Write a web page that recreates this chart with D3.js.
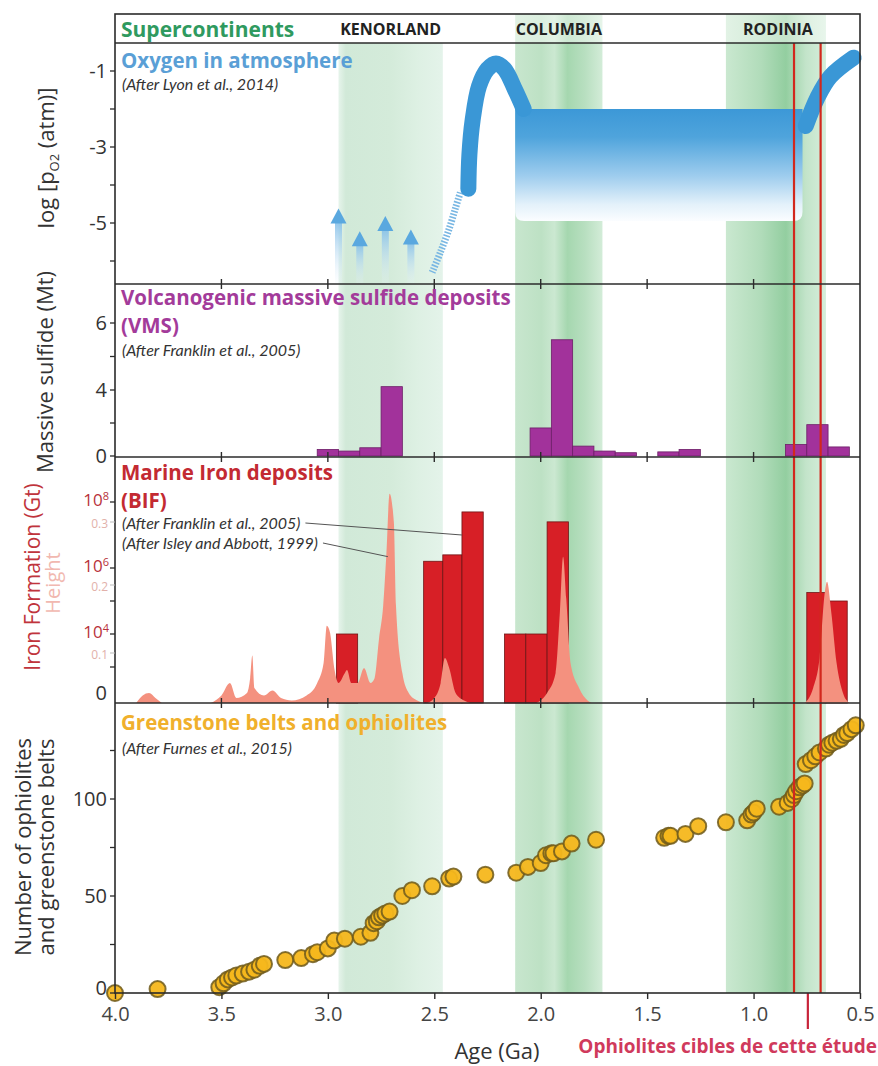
<!DOCTYPE html>
<html>
<head>
<meta charset="utf-8">
<script src="https://cdn.jsdelivr.net/npm/d3@7"></script>
<style>
body { margin: 0; background: #fff; }
text { font-family: "Open Sans", "Noto Sans", sans-serif; }
text.cite { font-family: Lato, "Open Sans", sans-serif; }
</style>
</head>
<body>
<script>
// ---------- data ----------
const ageTicks = [4.0, 3.5, 3.0, 2.5, 2.0, 1.5, 1.0, 0.5];

const superNames = ["KENORLAND", "COLUMBIA", "RODINIA"];
const superStart = [2.95, 2.12, 1.13];
const superEnd   = [2.46, 1.71, 0.66];

const targetAges = [0.81, 0.685];   // red lines
const targetMark = 0.745;           // tick below axis

// oxygen (log pO2)
const o2Ticks = [-1, -3, -5];
const o2Minor = [-2, -4, -6];
const arrowAges = [2.95, 2.85, 2.73, 2.61];
const arrowTips = [-4.75, -5.35, -4.95, -5.3];
const o2Rise = [[2.51, -6.3], [2.47, -5.75], [2.43, -5.15], [2.40, -4.6], [2.375, -4.15]];
const o2Arc = [[2.34, -4.1], [2.335, -3.2], [2.32, -2.3], [2.29, -1.4], [2.25, -0.95],
               [2.21, -0.8], [2.17, -0.95], [2.12, -1.5], [2.08, -2.0]];
const plateauAges = [2.12, 0.77];
const plateauLevels = [-2.0, -4.95];
const o2Late = [[0.755, -2.45], [0.70, -1.7], [0.64, -1.15], [0.53, -0.65]];

// VMS (Mt), 0.1 Ga bins
const vmsStart = [3.05, 2.95, 2.85, 2.75, 2.05, 1.95, 1.85, 1.75, 1.65, 1.45, 1.35, 0.85, 0.75, 0.65];
const vmsValue = [0.4, 0.3, 0.5, 4.1, 1.7, 5.5, 0.6, 0.3, 0.2, 0.25, 0.4, 0.7, 1.9, 0.55];
const vmsTicks = [0, 4, 6];
const vmsMinor = [2, 5];

// Iron formation (Gt)
const feStart = [2.96, 2.55, 2.46, 2.37, 2.17, 2.07, 1.97, 0.75, 0.66];
const feEnd   = [2.86, 2.46, 2.37, 2.27, 2.07, 1.97, 1.87, 0.66, 0.56];
const feValue = [1e4, 1.6e6, 2.5e6, 5e7, 1e4, 1e4, 2.5e7, 1.8e5, 1e5];
const feTicks = [1e8, 1e6, 1e4];
const feMinor = [1e5, 1e3];

// BIF height (Isley & Abbott)
const hAges = [3.90, 3.87, 3.84, 3.81, 3.78, 3.55, 3.50, 3.46, 3.43, 3.38, 3.365, 3.355, 3.345, 3.30, 3.26,
               3.22, 3.17, 3.10, 3.05, 3.02, 3.005, 2.99, 2.97, 2.95, 2.92, 2.91, 2.89, 2.86, 2.83, 2.80,
               2.78, 2.76, 2.74, 2.725, 2.71, 2.69, 2.68, 2.65, 2.62, 2.58, 2.54, 2.50, 2.47, 2.45, 2.43,
               2.40, 2.36, 2.33,
               2.02, 1.97, 1.93, 1.91, 1.895, 1.88, 1.86, 1.82, 1.78, 1.76,
               0.76, 0.72, 0.69, 0.665, 0.655, 0.635, 0.61, 0.58, 0.55];
const hValues = [0, 0.015, 0.02, 0.01, 0, 0, 0.015, 0.04, 0.01, 0.02, 0.05, 0.095, 0.03, 0.015, 0.025,
                 0.01, 0.005, 0.015, 0.04, 0.08, 0.14, 0.13, 0.07, 0.04, 0.06, 0.066, 0.04, 0.04, 0.07, 0.04,
                 0.05, 0.12, 0.17, 0.25, 0.345, 0.30, 0.17, 0.06, 0.02, 0.005, 0, 0.01, 0.04, 0.09, 0.07,
                 0.02, 0.005, 0,
                 0, 0.02, 0.06, 0.16, 0.245, 0.18, 0.08, 0.03, 0.005, 0,
                 0, 0.03, 0.09, 0.19, 0.205, 0.16, 0.08, 0.02, 0];
const hTicks = [0.1, 0.2, 0.3];

// Greenstone belts and ophiolites (cumulative number)
const gsAges = [4.00, 3.80, 3.51, 3.49, 3.47, 3.45, 3.43, 3.40, 3.37, 3.345, 3.32, 3.30, 3.20, 3.125, 3.07,
                3.05, 3.00, 2.97, 2.92, 2.845, 2.80, 2.785, 2.77, 2.76, 2.745, 2.73, 2.71, 2.65, 2.605, 2.51,
                2.43, 2.41, 2.26, 2.115, 2.06, 2.00, 1.975, 1.95, 1.94, 1.90, 1.855, 1.74, 1.42, 1.40, 1.39,
                1.32, 1.26, 1.13, 1.03, 1.01, 1.00, 0.985, 0.88, 0.84, 0.82, 0.81, 0.80, 0.785, 0.77, 0.76,
                0.755, 0.73, 0.71, 0.69, 0.66, 0.645, 0.63, 0.61, 0.59, 0.575, 0.56, 0.54, 0.52];
const gsCounts = [0, 2, 3, 5, 7, 8, 9, 10, 11, 12, 14, 15, 17, 18, 20,
                  21, 23, 27, 28, 29, 31, 36, 37, 39, 40, 41, 42, 50, 53, 55,
                  59, 60, 61, 62, 65, 67, 71, 72, 72, 73, 77, 79, 80, 81, 81,
                  82, 86, 88, 89, 92, 93, 95, 96, 98, 100, 102, 104, 106, 107, 108,
                  118, 120, 122, 124, 126, 128, 129, 130, 131, 133, 134, 136, 138];
const gsTicks = [0, 50, 100];
const gsMinor = [25, 75, 125];

// ---------- layout ----------
const W = 878, H = 1066;
const left = 115, right = 860;
const frameTop = 14, stripBottom = 43;
const panelO2 = [43, 284], panelVMS = [284, 457], panelFe = [457, 703], panelGS = [703, 993];

const svg = d3.select("body").append("svg")
  .attr("width", W).attr("height", H);
const defs = svg.append("defs");

const x = d3.scaleLinear().domain([4.0, 0.5]).range([left, right]);
const yO2 = d3.scaleLinear().domain([-1, -5]).range([71, 223]);
const yVMS = d3.scaleLinear().domain([0, 4, 6]).range([456, 390, 323]);
const yFe = d3.scaleLog().domain([1e2, 1e8]).range([700, 502]);
const yH = d3.scaleLinear().domain([0, 0.1, 0.2, 0.3]).range([703, 653, 585, 522]);
const yN = d3.scaleLinear().domain([0, 100]).range([993, 799]);

// ---------- supercontinent bands ----------
const bandStops = [
  [[0, "#e6f4eb"], [0.07, "#d1e9d8"], [0.5, "#d4ebda"], [0.75, "#ddf0e3"], [1, "#e4f3ea"]],
  [[0, "#c8e6ce"], [0.3, "#bde1c4"], [0.45, "#cbe8d1"], [0.6, "#a5d7af"], [0.8, "#b8dfc0"], [1, "#d3ecd8"]],
  [[0, "#cae8d0"], [0.35, "#b1dcba"], [0.6, "#93cea0"], [0.68, "#a8d8b2"], [0.8, "#c3e4ca"], [1, "#d5eedb"]]
];
bandStops.forEach((stops, i) => {
  const g = defs.append("linearGradient").attr("id", "band" + i)
    .attr("x1", 0).attr("x2", 1).attr("y1", 0).attr("y2", 0);
  stops.forEach(s => g.append("stop").attr("offset", s[0]).attr("stop-color", s[1]));
});

svg.selectAll("rect.band")
  .data(superNames)
  .join("rect")
  .attr("class", "band")
  .attr("x", (d, i) => x(superStart[i]))
  .attr("width", (d, i) => x(superEnd[i]) - x(superStart[i]))
  .attr("y", stripBottom)
  .attr("height", panelGS[1] - stripBottom)
  .attr("fill", (d, i) => `url(#band${i})`);

// the strip only carries Columbia and Rodinia
svg.selectAll("rect.bandStrip")
  .data(superNames.slice(1))
  .join("rect")
  .attr("class", "bandStrip")
  .attr("x", (d, i) => x(superStart[i + 1]))
  .attr("width", (d, i) => x(superEnd[i + 1]) - x(superStart[i + 1]))
  .attr("y", frameTop)
  .attr("height", stripBottom - frameTop)
  .attr("fill", (d, i) => `url(#band${i + 1})`)
  .attr("opacity", 0.55);

svg.selectAll("text.super")
  .data(superNames)
  .join("text")
  .attr("class", "super")
  .attr("x", (d, i) => (x(superStart[i]) + x(superEnd[i])) / 2 + (i === 2 ? 2 : 0))
  .attr("y", 35)
  .attr("text-anchor", "middle")
  .attr("font-size", 16)
  .attr("font-weight", 700)
  .attr("fill", "#222")
  .text(d => d);

svg.append("text").attr("x", 121).attr("y", 37)
  .attr("font-size", 21).attr("font-weight", 700).attr("fill", "#2f9a5f")
  .text("Supercontinents");

// ---------- oxygen panel ----------
const shaftGrad = defs.append("linearGradient").attr("id", "shaft")
  .attr("x1", 0).attr("x2", 0).attr("y1", 0).attr("y2", 1);
shaftGrad.append("stop").attr("offset", 0).attr("stop-color", "#84bfe8").attr("stop-opacity", 0.9);
shaftGrad.append("stop").attr("offset", 1).attr("stop-color", "#e8f3fb").attr("stop-opacity", 0.15);

const plateauGrad = defs.append("linearGradient").attr("id", "plateau")
  .attr("x1", 0).attr("x2", 0).attr("y1", 0).attr("y2", 1);
[[0, "#3c98d7"], [0.25, "#4fa4dc"], [0.6, "#9fcdee"], [0.85, "#e3f1fa"], [1, "#fbfdff"]]
  .forEach(s => plateauGrad.append("stop").attr("offset", s[0]).attr("stop-color", s[1]));

const arrows = svg.append("g");
arrowAges.forEach((a, i) => {
  arrows.append("rect")
    .attr("x", x(a) - 3.5).attr("width", 7)
    .attr("y", yO2(arrowTips[i]) + 8)
    .attr("height", yO2(-6.6) - yO2(arrowTips[i]) - 8)
    .attr("fill", "url(#shaft)");
  const tx = x(a), ty = yO2(arrowTips[i]);
  arrows.append("path")
    .attr("d", `M${tx},${ty - 5}L${tx + 8},${ty + 10}L${tx - 8},${ty + 10}Z`)
    .attr("fill", "#5aa8df");
});

const lineO2 = d3.line().x(d => x(d[0])).y(d => yO2(d[1])).curve(d3.curveCatmullRom);

svg.append("path").datum(o2Rise)
  .attr("d", lineO2)
  .attr("fill", "none").attr("stroke", "#79b7e3")
  .attr("stroke-width", 7).attr("stroke-dasharray", "1.6,1.6");

const px0 = x(plateauAges[0]), px1 = x(plateauAges[1]);
const py0 = yO2(plateauLevels[0]), py1 = yO2(plateauLevels[1]);
const r = 9;
svg.append("path")
  .attr("d", `M${px0},${py0}H${px1}V${py1 - r}Q${px1},${py1} ${px1 - r},${py1}H${px0 + r}Q${px0},${py1} ${px0},${py1 - r}Z`)
  .attr("fill", "url(#plateau)");

svg.append("path").datum(o2Arc)
  .attr("d", lineO2)
  .attr("fill", "none").attr("stroke", "#3a97d6")
  .attr("stroke-width", 16).attr("stroke-linecap", "round");

svg.append("path").datum(o2Late)
  .attr("d", lineO2)
  .attr("fill", "none").attr("stroke", "#3a97d6")
  .attr("stroke-width", 16).attr("stroke-linecap", "round");

// ---------- VMS panel ----------
const binW = 0.1;
svg.append("g").selectAll("rect")
  .data(vmsValue)
  .join("rect")
  .attr("x", (d, i) => x(vmsStart[i]))
  .attr("width", (d, i) => x(vmsStart[i] - binW) - x(vmsStart[i]))
  .attr("y", d => yVMS(d))
  .attr("height", d => yVMS(0) - yVMS(d))
  .attr("fill", "#a2329b")
  .attr("stroke", "#6d1f68")
  .attr("stroke-width", 0.8);

// ---------- Iron panel ----------
svg.append("g").selectAll("rect")
  .data(feValue)
  .join("rect")
  .attr("x", (d, i) => x(feStart[i]))
  .attr("width", (d, i) => x(feEnd[i]) - x(feStart[i]))
  .attr("y", d => yFe(d))
  .attr("height", d => panelFe[1] - yFe(d))
  .attr("fill", "#d71f26")
  .attr("stroke", "#6e1515")
  .attr("stroke-width", 0.8);

const hData = hAges.map((a, i) => [a, hValues[i]]);
// split into separate humps where the record has a gap
const segs = [];
let cur = [];
hData.forEach((d, i) => {
  if (i > 0 && hData[i - 1][0] - d[0] > 0.2) { segs.push(cur); cur = []; }
  cur.push(d);
});
segs.push(cur);
const areaH = d3.area().x(d => x(d[0])).y0(panelFe[1]).y1(d => yH(d[1])).curve(d3.curveMonotoneX);
svg.append("g").selectAll("path")
  .data(segs.map(s => s.slice().reverse()))
  .join("path")
  .attr("d", areaH)
  .attr("fill", "#f4917f");

// ---------- greenstone panel ----------
svg.append("g").selectAll("circle")
  .data(gsAges)
  .join("circle")
  .attr("cx", d => x(d))
  .attr("cy", (d, i) => yN(gsCounts[i]))
  .attr("r", 8)
  .attr("fill", "#f6b71c")
  .attr("stroke", "#6f5a1c")
  .attr("stroke-width", 2)
  .attr("fill-opacity", 0.95)
  .attr("stroke-opacity", 0.85);

// ---------- red target lines ----------
svg.selectAll("line.target")
  .data(targetAges)
  .join("line")
  .attr("class", "target")
  .attr("x1", d => x(d)).attr("x2", d => x(d))
  .attr("y1", stripBottom).attr("y2", panelGS[1])
  .attr("stroke", "#d2281d").attr("stroke-width", 2.2);

svg.append("line")
  .attr("x1", x(targetMark)).attr("x2", x(targetMark))
  .attr("y1", panelGS[1]).attr("y2", 1029)
  .attr("stroke", "#c8243a").attr("stroke-width", 2.2);

svg.append("text").attr("x", 877).attr("y", 1053)
  .attr("text-anchor", "end").attr("font-size", 19).attr("font-weight", 700)
  .attr("fill", "#d03a5c").text("Ophiolites cibles de cette étude");

// ---------- frames and ticks ----------
const frame = svg.append("g").attr("stroke", "#2b2b2b").attr("fill", "none");
frame.append("rect").attr("x", left).attr("y", frameTop)
  .attr("width", right - left).attr("height", panelGS[1] - frameTop).attr("stroke-width", 1.6);
[stripBottom, panelO2[1], panelVMS[1], panelFe[1]].forEach(yy => {
  frame.append("line").attr("x1", left).attr("x2", right).attr("y1", yy).attr("y2", yy)
    .attr("stroke-width", 1.6);
});

// x ticks on panel boundaries
[panelO2[1], panelVMS[1], panelFe[1]].forEach(yy => {
  frame.selectAll(null)
    .data(ageTicks.slice(1, -1))
    .join("line")
    .attr("x1", d => x(d)).attr("x2", d => x(d))
    .attr("y1", yy - 5).attr("y2", yy + 5)
    .attr("stroke-width", 1.4);
});

// bottom axis
const xAxis = d3.axisBottom(x).tickValues(ageTicks).tickFormat(d3.format(".1f")).tickSize(6);
const gx = svg.append("g").attr("transform", `translate(0,${panelGS[1]})`).call(xAxis);
gx.select(".domain").remove();
gx.selectAll("line").attr("stroke", "#2b2b2b").attr("stroke-width", 1.4);
gx.selectAll("text").attr("font-size", 20).attr("fill", "#444").attr("dy", "0.95em")
  .style("font-family", "'Open Sans', sans-serif");

svg.append("text").attr("x", 497).attr("y", 1059).attr("text-anchor", "middle")
  .attr("font-size", 22).attr("fill", "#333").text("Age (Ga)");

// y axes
function yAxisTicks(scale, major, minor, fmt) {
  const g = svg.append("g");
  g.selectAll("line.mj").data(major.concat(minor)).join("line")
    .attr("x1", left - 5).attr("x2", left)
    .attr("y1", d => scale(d)).attr("y2", d => scale(d))
    .attr("stroke", "#2b2b2b").attr("stroke-width", 1.3);
  g.selectAll("text").data(major).join("text")
    .attr("x", left - 8).attr("y", d => scale(d)).attr("dy", "0.35em")
    .attr("text-anchor", "end").attr("font-size", 20).attr("fill", "#333")
    .text(fmt);
  return g;
}
yAxisTicks(yO2, o2Ticks, o2Minor, d => d);
yAxisTicks(yVMS, vmsTicks, vmsMinor, d => d);
yAxisTicks(yN, gsTicks, gsMinor, d => d).selectAll("text")
  .attr("y", d => d === 0 ? yN(d) - 5 : yN(d));

// iron axis (log, superscripts) + height ticks
const gFe = svg.append("g");
gFe.selectAll("line").data(feTicks.concat(feMinor)).join("line")
  .attr("x1", left - 5).attr("x2", left)
  .attr("y1", d => yFe(d)).attr("y2", d => yFe(d))
  .attr("stroke", "#2b2b2b").attr("stroke-width", 1.3);
const feLab = gFe.selectAll("text").data(feTicks).join("text")
  .attr("x", left - 6).attr("y", d => yFe(d) + 4)
  .attr("text-anchor", "end").attr("font-size", 17).attr("fill", "#b8323a");
feLab.append("tspan").text("10");
feLab.append("tspan").attr("dy", "-0.55em").attr("font-size", 11).text(d => Math.round(Math.log10(d)));
gFe.append("text").attr("x", left - 8).attr("y", panelFe[1] - 3)
  .attr("text-anchor", "end").attr("font-size", 20).attr("fill", "#333").text("0");

const gH = svg.append("g");
gH.selectAll("line").data(hTicks).join("line")
  .attr("x1", left - 5).attr("x2", left)
  .attr("y1", d => yH(d)).attr("y2", d => yH(d))
  .attr("stroke", "#bbb").attr("stroke-width", 1);
gH.selectAll("text").data(hTicks).join("text")
  .attr("x", left - 7).attr("y", d => yH(d) + 6)
  .attr("text-anchor", "end").attr("font-size", 12).attr("fill", "#e2b1aa")
  .text(d => d.toFixed(1));

// ---------- axis titles ----------
function vTitle(xx, yy, size, color) {
  return svg.append("text")
    .attr("transform", `translate(${xx},${yy}) rotate(-90)`)
    .attr("text-anchor", "middle").attr("font-size", size).attr("fill", color);
}
const t1 = vTitle(54, 158, 22, "#333");
t1.append("tspan").text("log [p");
t1.append("tspan").attr("font-size", 13).attr("dy", 5).text("O2");
t1.append("tspan").attr("dy", -5).text(" (atm)]");
vTitle(53, 372, 22, "#333").text("Massive sulfide (Mt)");
vTitle(40, 577, 21, "#c0343c").text("Iron Formation (Gt)");
vTitle(60, 583, 20, "#f1b8b0").text("Height");
vTitle(31, 847, 22, "#333").text("Number of ophiolites");
vTitle(54, 847, 22, "#333").text("and greenstone belts");

// ---------- panel titles ----------
function title(yy, txt, color) {
  return svg.append("text").attr("x", 121).attr("y", yy)
    .attr("font-size", 20.5).attr("font-weight", 700).attr("fill", color).text(txt);
}
function cite(yy, txt) {
  return svg.append("text").attr("class", "cite").attr("x", 122).attr("y", yy)
    .attr("font-size", 16).attr("font-style", "italic").attr("fill", "#333").text(txt);
}
title(68, "Oxygen in atmosphere", "#5a9fd6");
cite(90, "(After Lyon et al., 2014)");
title(305, "Volcanogenic massive sulfide deposits", "#a33b9a");
title(333, "(VMS)", "#a33b9a");
cite(356, "(After Franklin et al., 2005)");
title(480, "Marine Iron deposits", "#c32a32");
title(508, "(BIF)", "#c32a32");
const citeFr = cite(529, "(After Franklin et al., 2005)");
const citeIs = cite(549, "(After Isley and Abbott, 1999)");
title(730, "Greenstone belts and ophiolites", "#f0b02c");
cite(754, "(After Furnes et al., 2015)");

// leader lines, starting just after each citation
const endFr = 122 + citeFr.node().getComputedTextLength() + 5;
const endIs = 122 + citeIs.node().getComputedTextLength() + 5;
svg.append("line").attr("x1", endFr).attr("y1", 523)
  .attr("x2", x(2.37)).attr("y2", yFe(1e7))
  .attr("stroke", "#555").attr("stroke-width", 1);
svg.append("line").attr("x1", endIs).attr("y1", 543)
  .attr("x2", x(2.718)).attr("y2", yH(0.245))
  .attr("stroke", "#555").attr("stroke-width", 1);
</script>
</body>
</html>
